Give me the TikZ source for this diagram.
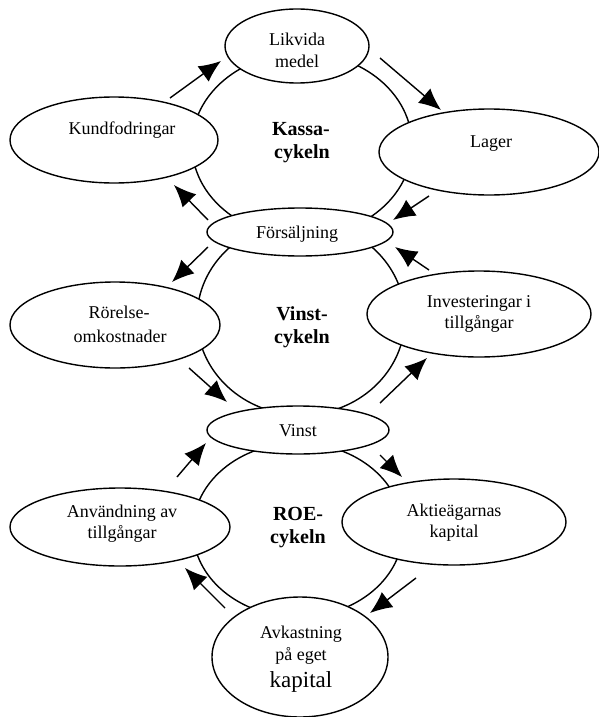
\documentclass[tikz,border=0pt]{standalone}
\usepackage{fontspec}
\setmainfont{Liberation Serif}
\usetikzlibrary{shapes.geometric,arrows.meta}
\begin{document}
\begin{tikzpicture}[x=1pt,y=-1pt,
  box/.style={draw,line width=1.4pt,fill=white,ellipse,inner sep=0pt},
  cyc/.style={draw,line width=1.4pt,ellipse,inner sep=0pt},
  txt/.style={anchor=base,inner sep=0pt,font=\fontsize{18}{22}\selectfont},
  big/.style={anchor=base,inner sep=0pt,font=\fontsize{23}{27}\selectfont},
  ctr/.style={anchor=base,inner sep=0pt,font=\fontsize{20}{24}\selectfont\bfseries},
  flow/.style={line width=1.4pt,-{Latex[length=22pt,width=19pt]}}]
\useasboundingbox (0,0) rectangle (599,717);
% cycles
\node[cyc,minimum width=220pt,minimum height=184pt] (kassacyc) at (302,145) {};
\node[cyc,minimum width=208pt,minimum height=194pt] (vinstcyc) at (301,318) {};
\node[cyc,minimum width=210pt,minimum height=174pt] (roecyc) at (298,530) {};
% ellipses
\node[box,minimum width=144pt,minimum height=74pt] (likvida) at (297,46) {};
\node[box,minimum width=208pt,minimum height=86pt] (kund) at (114,140) {};
\node[box,minimum width=220pt,minimum height=86pt] (lager) at (489,152) {};
\node[box,minimum width=186pt,minimum height=48pt] (fors) at (300,232) {};
\node[box,minimum width=210pt,minimum height=86pt] (rorelse) at (115,325) {};
\node[box,minimum width=224pt,minimum height=86pt] (invest) at (479,314) {};
\node[box,minimum width=182pt,minimum height=48pt] (vinst) at (298,430) {};
\node[box,minimum width=220pt,minimum height=78pt] (anv) at (120,527) {};
\node[box,minimum width=224pt,minimum height=86pt] (aktie) at (454,522) {};
\node[box,minimum width=176pt,minimum height=120pt] (avk) at (300,657) {};
% texts
\node[txt] (t1a) at (297,46) {Likvida};
\node[txt] (t1b) at (297,67) {medel};
\node[txt] (t2) at (122,134) {Kundfodringar};
\node[txt] (t3) at (491,147) {Lager};
\node[txt] (t4) at (297,238) {Försäljning};
\node[txt] (t5a) at (119,318) {Rörelse-};
\node[txt] (t5b) at (120,342) {omkostnader};
\node[txt] (t6a) at (479,307) {Investeringar i};
\node[txt] (t6b) at (479,328) {tillgångar};
\node[txt] (t7) at (298,436) {Vinst};
\node[txt] (t8a) at (122,517) {Användning av};
\node[txt] (t8b) at (122,538) {tillgångar};
\node[txt] (t9a) at (454,516) {Aktieägarnas};
\node[txt] (t9b) at (454,537) {kapital};
\node[txt] (t10a) at (301,638) {Avkastning};
\node[txt] (t10b) at (301,660) {på eget};
\node[big] (t10c) at (301,687) {kapital};
\node[ctr] (c1a) at (301,135) {Kassa-};
\node[ctr] (c1b) at (302,158) {cykeln};
\node[ctr] (c2a) at (302,320) {Vinst-};
\node[ctr] (c2b) at (302,343) {cykeln};
\node[ctr] (c3a) at (298,520) {ROE-};
\node[ctr] (c3b) at (298,543) {cykeln};
% arrow end points
\coordinate (a1s) at (170,98);  \coordinate (a1e) at (221,61);
\coordinate (a2s) at (380,58);  \coordinate (a2e) at (441,110);
\coordinate (a3s) at (429,196); \coordinate (a3e) at (393,220);
\coordinate (a4s) at (208,220); \coordinate (a4e) at (174,185);
\coordinate (a5s) at (208,247); \coordinate (a5e) at (172,282);
\coordinate (a6s) at (189,368); \coordinate (a6e) at (227,402);
\coordinate (a7s) at (380,403); \coordinate (a7e) at (427,358);
\coordinate (a8s) at (429,270); \coordinate (a8e) at (395,247);
\coordinate (a9s) at (380,455); \coordinate (a9e) at (402,477);
\coordinate (a10s) at (416,578); \coordinate (a10e) at (370,613);
\coordinate (a11s) at (225,608); \coordinate (a11e) at (185,568);
\coordinate (a12s) at (177,477); \coordinate (a12e) at (206,443);
\foreach \i in {1,...,12} {\draw[flow] (a\i s) -- (a\i e);}
\end{tikzpicture}
\end{document}
